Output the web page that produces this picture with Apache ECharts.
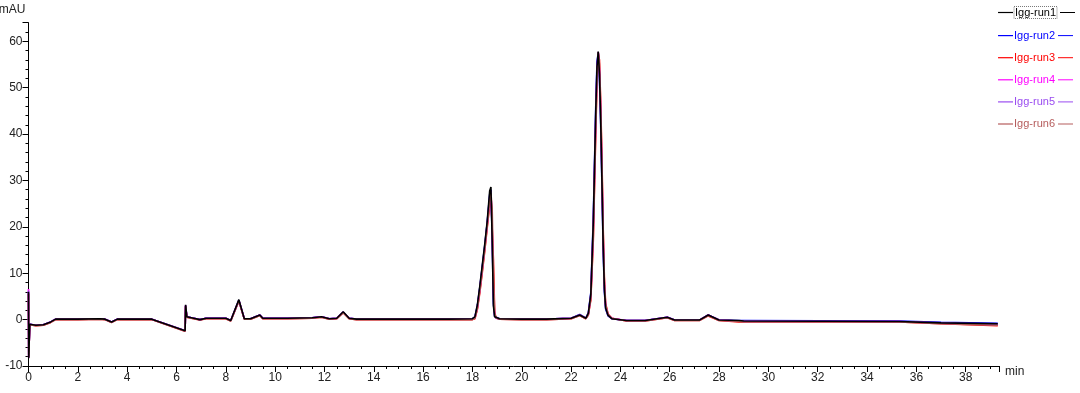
<!DOCTYPE html>
<html>
<head>
<meta charset="utf-8">
<script src="https://cdn.jsdelivr.net/npm/echarts@6/dist/echarts.min.js"></script>
<style>
html,body{margin:0;padding:0;background:#fff;}
#chart{width:1080px;height:393px;}
</style>
</head>
<body>
<div id="chart"></div>
<script>
// Retention times (min)
var times = [0,0.01,0.05,0.3,0.6,0.9,1.1,2.0,2.9,3.1,3.37,3.6,4.0,5.0,6.35,6.37,6.42,6.5,6.7,6.95,
  7.2,8.0,8.2,8.53,8.75,9.0,9.38,9.5,10.5,11.5,11.88,12.2,12.5,12.76,13.0,13.3,15.0,17.0,18.0,18.1,
  18.2,18.3,18.4,18.5,18.6,18.7,18.75,18.8,18.85,18.9,18.95,19.1,20.0,21.0,22.0,22.35,22.6,22.7,22.8,22.9,
  23.0,23.05,23.1,23.15,23.2,23.25,23.3,23.35,23.4,23.5,23.65,24.25,25.0,25.9,26.2,27.2,27.56,28.0,28.8,29.0,
  35.3,37.0,39.3];

var seriesNames = ['Igg-run1','Igg-run2','Igg-run3','Igg-run4','Igg-run5','Igg-run6'];
var seriesColors = ['#000000','#0000ff','#ff0000','#ff00ff','#9a4cf0','#b55c5c'];

// Absorbance (mAU) for each run, aligned with times
var run1 = [6.0,-8.3,-1.0,-1.2,-1.1,-0.5,0.1,0.1,0.2,0.1,-0.5,0.1,0.1,0.1,-2.4,3.2,0.6,0.3,0.3,0.0,
  0.3,0.3,-0.2,4.3,0.2,0.2,1.0,0.3,0.3,0.4,0.6,0.2,0.3,1.7,0.3,0.1,0.1,0.1,0.2,0.6,
  3.2,7.3,11.8,16.3,21.3,27.8,28.6,17.0,3.0,0.6,0.3,0.2,0.1,0.1,0.3,1.0,0.3,1.4,5.5,21.0,
  45.0,54.5,57.8,53.0,43.0,30.0,16.0,6.5,2.5,0.9,0.2,-0.2,-0.2,0.5,-0.1,-0.1,1.0,-0.1,-0.2,-0.3,
  -0.4,-0.7,-0.9];
var run2 = [5.8,-8.0,-1.0,-1.2,-1.1,-0.5,0.1,0.1,0.2,0.1,-0.5,0.1,0.1,0.1,-2.4,3.0,0.6,0.3,0.3,0.0,
  0.3,0.3,-0.2,4.2,0.2,0.2,1.0,0.3,0.3,0.4,0.6,0.2,0.3,1.6,0.3,0.1,0.1,0.1,0.2,0.6,
  3.0,7.0,11.5,16.0,21.0,27.0,28.0,18.0,3.5,0.7,0.3,0.2,0.1,0.1,0.3,1.1,0.3,1.5,5.8,22.0,
  46.0,55.5,57.5,52.0,42.0,29.0,15.0,6.0,2.3,0.8,0.2,-0.2,-0.2,0.5,-0.1,-0.1,1.0,-0.1,-0.2,-0.2,
  -0.3,-0.6,-0.8];
var run3 = [5.5,-8.0,-1.1,-1.3,-1.2,-0.6,0.0,0.0,0.1,0.0,-0.6,0.0,0.0,0.0,-2.5,2.9,0.5,0.2,0.2,-0.1,
  0.2,0.2,-0.3,4.0,0.1,0.1,0.9,0.2,0.2,0.3,0.5,0.1,0.2,1.5,0.2,0.0,0.0,0.0,0.0,0.2,
  2.2,5.8,10.2,14.8,19.8,24.8,26.8,27.0,13.0,1.8,0.4,0.1,0.0,0.0,0.2,0.9,0.2,1.0,4.2,17.0,
  40.0,51.0,57.5,56.0,47.0,35.0,20.0,9.0,3.5,1.2,0.3,-0.3,-0.3,0.4,-0.2,-0.2,0.8,-0.2,-0.5,-0.5,
  -0.5,-0.9,-1.3];
var run4 = [6.6,-8.2,-1.0,-1.2,-1.1,-0.5,0.1,0.1,0.2,0.1,-0.5,0.1,0.1,0.1,-2.4,3.1,0.6,0.3,0.3,0.0,
  0.3,0.3,-0.2,4.1,0.2,0.2,1.0,0.3,0.3,0.4,0.6,0.2,0.3,1.6,0.3,0.1,0.1,0.1,0.1,0.4,
  2.6,6.5,11.0,15.5,20.5,26.0,27.5,20.0,6.0,1.0,0.3,0.2,0.1,0.1,0.3,1.0,0.3,1.2,5.0,19.5,
  43.0,53.0,57.6,54.0,45.0,32.0,18.0,7.5,3.0,1.0,0.3,-0.2,-0.2,0.5,-0.1,-0.1,1.0,-0.1,-0.3,-0.4,
  -0.4,-0.8,-1.1];
var run5 = [6.2,-8.1,-1.0,-1.2,-1.1,-0.5,0.1,0.1,0.2,0.1,-0.5,0.1,0.1,0.1,-2.4,3.0,0.6,0.3,0.3,0.0,
  0.3,0.3,-0.2,4.1,0.2,0.2,1.0,0.3,0.3,0.4,0.6,0.2,0.3,1.6,0.3,0.1,0.1,0.1,0.1,0.5,
  2.8,6.8,11.2,15.8,20.8,26.5,27.8,19.0,5.0,0.9,0.3,0.2,0.1,0.1,0.3,1.0,0.3,1.3,5.2,20.5,
  44.0,54.0,57.7,53.5,44.0,31.0,17.0,7.0,2.8,0.9,0.2,-0.2,-0.2,0.5,-0.1,-0.1,1.0,-0.1,-0.3,-0.3,
  -0.4,-0.7,-1.0];
var run6 = [5.6,-8.0,-1.1,-1.3,-1.2,-0.6,0.0,0.0,0.1,0.0,-0.6,0.0,0.0,0.0,-2.5,2.9,0.5,0.2,0.2,-0.1,
  0.2,0.2,-0.3,4.0,0.1,0.1,0.9,0.2,0.2,0.3,0.5,0.1,0.2,1.5,0.2,0.0,0.0,0.0,0.0,0.3,
  2.4,6.2,10.6,15.2,20.2,25.5,27.2,24.0,10.0,1.5,0.4,0.1,0.0,0.0,0.2,0.9,0.2,1.1,4.5,18.0,
  41.5,52.0,57.6,55.0,46.0,33.5,19.0,8.0,3.2,1.1,0.3,-0.3,-0.3,0.4,-0.2,-0.2,0.9,-0.2,-0.4,-0.5,
  -0.5,-0.9,-1.2];

var runs = [run1, run2, run3, run4, run5, run6];

function pairs(vals){
  var out = [];
  for (var i = 0; i < times.length; i++) out.push([times[i], vals[i]]);
  return out;
}

var rich = {
  b: {borderColor:'#777', borderWidth:1, borderType:'dotted', padding:[1,1,0,1], fontSize:11, fontFamily:'Liberation Sans', color:'#000'},
  s: {width: 3, height: 1}
};
seriesColors.forEach(function(c, i){
  rich['r' + i] = {width:15, height:1, backgroundColor:c};
});

var chart = echarts.init(document.getElementById('chart'), null, {renderer:'canvas'});
var option = {
  animation: false,
  backgroundColor: '#ffffff',
  grid: {left: 28.5, right: 81, top: 22.7, bottom: 27, containLabel: false, outerBoundsMode: 'none'},
  legend: {
    orient: 'vertical',
    right: 0,
    top: 1,
    icon: 'rect',
    itemWidth: 15,
    itemHeight: 1.2,
    itemGap: 11.1,
    align: 'left',
    textStyle: {fontSize: 11, fontFamily: 'Liberation Sans', padding:[0,0,0,-4], rich: rich},
    formatter: function(name){
      var i = seriesNames.indexOf(name);
      return (i === 0 ? '{b|' + name + '}' : name) + '{s|}{r' + i + '|}';
    },
    data: seriesNames.map(function(n, i){ return {name: n, textStyle: {color: seriesColors[i]}}; })
  },
  xAxis: {
    type: 'value',
    min: 0,
    max: 39.35,
    interval: 2,
    name: 'min',
    nameLocation: 'end',
    nameGap: 6,
    nameTextStyle: {fontSize: 12, fontFamily: 'Liberation Sans', color: '#222', verticalAlign: 'top', padding:[0,0,0,0]},
    axisLine: {show: true, onZero: false, lineStyle: {color: '#000', width: 1}},
    axisTick: {show: true, length: 6, lineStyle: {color: '#000'}},
    minorTick: {show: true, splitNumber: 4, length: 3, lineStyle: {color: '#000'}},
    axisLabel: {fontSize: 12, fontFamily: 'Liberation Sans', color: '#222', margin: 6, showMaxLabel: false},
    splitLine: {show: false}
  },
  yAxis: {
    type: 'value',
    min: -10,
    max: 64,
    interval: 10,
    name: 'mAU',
    nameLocation: 'end',
    nameGap: 7,
    nameTextStyle: {fontSize: 12, fontFamily: 'Liberation Sans', color: '#222', align: 'right', padding:[0,3,0,0]},
    axisLine: {show: true, lineStyle: {color: '#000', width: 1}},
    axisTick: {show: true, length: 6, lineStyle: {color: '#000'}},
    minorTick: {show: true, splitNumber: 5, length: 3, lineStyle: {color: '#000'}},
    axisLabel: {fontSize: 12, fontFamily: 'Liberation Sans', color: '#222', margin: 6, showMaxLabel: false},
    splitLine: {show: false}
  },
  series: seriesNames.map(function(n, i){
    return {
      name: n,
      type: 'line',
      data: pairs(runs[i]),
      symbol: 'none',
      showSymbol: false,
      smooth: false,
      lineStyle: {color: seriesColors[i], width: 1.6},
      itemStyle: {color: seriesColors[i]},
      z: 2 + (i === 0 ? 6 : i)
    };
  })
};
chart.setOption(option);
</script>
</body>
</html>
